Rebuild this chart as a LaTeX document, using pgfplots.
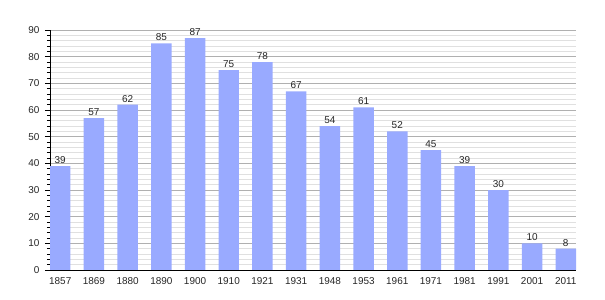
\documentclass[border=0pt]{standalone}
\usepackage{fontspec}
\setmainfont{Liberation Sans}
\usepackage{pgfplots}
\pgfplotsset{compat=1.18}
\definecolor{barc}{RGB}{153,170,255}
\definecolor{majg}{RGB}{176,176,176}
\definecolor{ming}{RGB}{224,224,224}
\begin{document}
\begin{tikzpicture}
\begin{axis}[
  scale only axis, width=526bp, height=240bp,
  xmin=-0.304, xmax=15.304, ymin=0, ymax=90,
  ybar, bar width=0.608, bar shift=0pt,
  axis x line*=bottom, axis y line*=left,
  axis line style={black, line width=0.8pt},
  xtick={0,...,15},
  xticklabels={1857,1869,1880,1890,1900,1910,1921,1931,1948,1953,1961,1971,1981,1991,2001,2011},
  x tick style={draw=none},
  ytick={0,10,...,90},
  minor y tick num=4,
  tick align=outside,
  major tick length=5bp, minor tick length=3bp,
  y tick style={black, line width=0.6pt},
  ymajorgrids, yminorgrids,
  major grid style={majg, line width=0.6pt},
  minor grid style={ming, line width=0.6pt},
  tick label style={font=\fontsize{10}{12}\selectfont, text=black!85},
  /pgf/number format/assume math mode=true,
  xticklabel style={yshift=1bp},
  yticklabel style={xshift=-2bp},
  nodes near coords,
  every node near coord/.append style={font=\fontsize{10}{12}\selectfont, text=black!85, yshift=-1bp},
  axis on top=false,
]
\addplot[fill=barc, draw=none] coordinates {
(0,39) (1,57) (2,62) (3,85) (4,87) (5,75) (6,78) (7,67) (8,54) (9,61) (10,52) (11,45) (12,39) (13,30) (14,10) (15,8)};
\coordinate (o) at (rel axis cs:0,0);
\end{axis}
\pgfresetboundingbox
\path (o) ++(-50bp,-30bp) rectangle ++(605bp,300bp);
\end{tikzpicture}
\end{document}
